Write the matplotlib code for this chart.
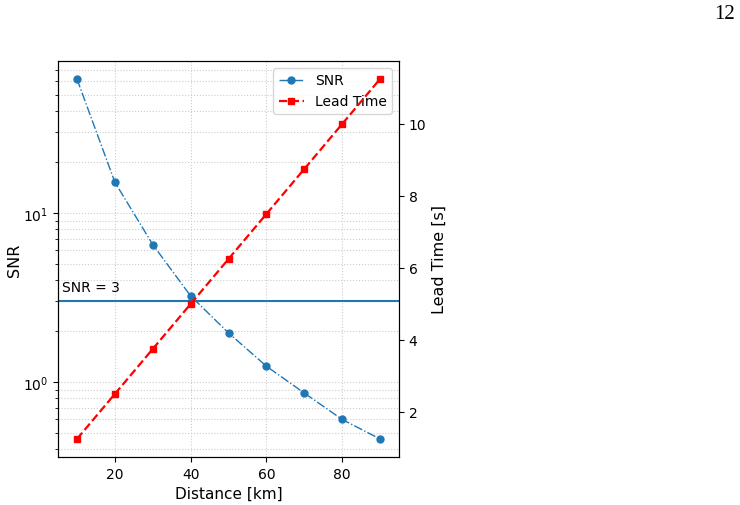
import matplotlib
matplotlib.use('Agg')
import matplotlib.pyplot as plt

# Datos
distancia = [10, 20, 30, 40, 50, 60, 70, 80, 90]
snr = [62.0, 15.2, 6.5, 3.23, 1.95, 1.24, 0.86, 0.60, 0.46]
lead_time = [1.25, 2.5, 3.75, 5.0, 6.25, 7.5, 8.75, 10.0, 11.25]
snr_umbral = 3

fig = plt.figure(figsize=(7.4, 5.06), dpi=100)
ax = fig.add_axes([0.0784, 0.0949, 0.4608, 0.7826])

l1, = ax.plot(distancia, snr, '-.', marker='o', color='C0', lw=1, ms=5, label='SNR')
ax.axhline(snr_umbral, color='C0', lw=1.5)
ax.text(6, snr_umbral * 1.1, 'SNR = 3', fontsize=10, va='bottom')
ax.set_yscale('log')
ax.set_xlim(5, 95)
ax.set_xlabel('Distance [km]', fontsize=11)
ax.set_ylabel('SNR', fontsize=11.5, labelpad=1)
ax.tick_params(labelsize=10)
ax.grid(True, which='both', ls=':', color='0.8', lw=0.8)

ax2 = ax.twinx()
l2, = ax2.plot(distancia, lead_time, '--', marker='s', color='red', lw=1.6, ms=5, label='Lead Time')
ax2.set_ylabel('Lead Time [s]', fontsize=11.5)
ax2.tick_params(labelsize=10)

ax.legend([l1, l2], ['SNR', 'Lead Time'], loc='upper right', fontsize=10, handlelength=1.8)

fig.text(0.993, 0.972, '12', family='Liberation Serif', fontsize=15, ha='right', va='center')

plt.savefig('out.png', dpi=100)
